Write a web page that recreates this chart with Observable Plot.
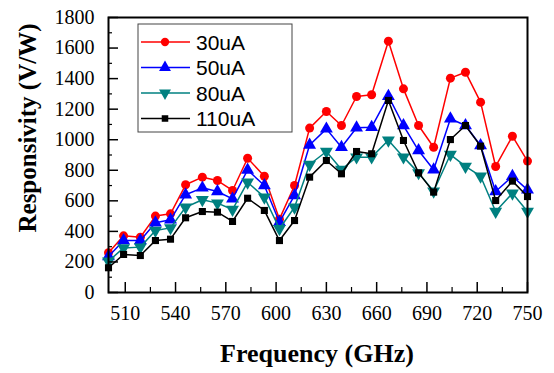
<!DOCTYPE html>
<html>
<head>
<meta charset="utf-8">
<script src="https://cdn.jsdelivr.net/npm/d3@7"></script>
<script src="https://cdn.jsdelivr.net/npm/@observablehq/plot@0.6"></script>
<style>
  html, body { margin: 0; padding: 0; background: #fff; }
  #chart svg { display: block; }
</style>
</head>
<body>
<div id="chart"></div>
<script>
const freq = [500,509,519,528,537,546,556,565,574,583,593,602,611,620,630,639,648,657,667,676,685,694,704,713,722,731,741,750];
const r30  = [260,371,362,500,515,705,755,733,668,879,761,480,700,1076,1185,1093,1283,1294,1645,1333,1093,951,1403,1442,1246,825,1023,860];
const r50  = [236,340,340,456,476,640,685,661,613,802,700,460,635,966,1071,951,1078,1082,1285,1093,929,803,1137,1093,962,661,761,672];
const r80  = [205,292,297,406,423,558,607,585,543,722,624,417,558,838,923,805,886,886,997,886,783,663,903,825,761,530,650,530];
const r110 = [162,249,242,340,349,489,530,526,465,617,537,340,471,755,864,777,923,908,1257,995,783,657,1001,1093,958,602,729,628];
const seriesNames = ["30uA", "50uA", "80uA", "110uA"];
const seriesValues = [r30, r50, r80, r110];
const seriesColors = ["#ff0000", "#0000ff", "#008080", "#000000"];
const xTicks = [510, 540, 570, 600, 630, 660, 690, 720, 750];
const xMinor = [525, 555, 585, 615, 645, 675, 705, 735];
const yTicks = [0, 200, 400, 600, 800, 1000, 1200, 1400, 1600, 1800];
const yMinor = [100, 300, 500, 700, 900, 1100, 1300, 1500, 1700];

const sqrt3 = Math.sqrt(3);
const triangleDown = {
  draw(context, size) {
    const y = -Math.sqrt(size / (sqrt3 * 3));
    context.moveTo(0, -y * 2);
    context.lineTo(-sqrt3 * y, y);
    context.lineTo(sqrt3 * y, y);
    context.closePath();
  }
};
const seriesSymbols = [d3.symbolCircle, d3.symbolTriangle, triangleDown, d3.symbolSquare];
const seriesR = [4.5, 4.8, 4.8, 4];

const rows = [];
seriesNames.forEach((name, i) => {
  freq.forEach((f, j) => rows.push({series: name, freq: f, value: seriesValues[i][j]}));
});

const marks = [];
seriesNames.forEach((name, i) => {
  const d = rows.filter(r => r.series === name);
  marks.push(Plot.line(d, {x: "freq", y: "value", stroke: seriesColors[i], strokeWidth: 1.5}));
  marks.push(Plot.dot(d, {x: "freq", y: "value", fill: seriesColors[i], stroke: "none", r: seriesR[i], symbol: () => seriesSymbols[i]}));
});

const plot = Plot.plot({
  width: 554,
  height: 373,
  marginLeft: 108,
  marginRight: 27,
  marginTop: 17,
  marginBottom: 81,
  style: {background: "#fff", overflow: "visible"},
  x: {domain: [500, 750]},
  y: {domain: [0, 1800]},
  symbol: {type: "identity"},
  marks: [
    ...marks,
    Plot.axisX({ticks: xTicks, tickSize: -10, text: null, label: null, strokeWidth: 1.5}),
    Plot.axisX({ticks: xMinor, tickSize: -5, text: null, label: null, strokeWidth: 1.2}),
    Plot.axisX({ticks: xTicks, tickSize: 0, tickPadding: 13, label: null, fontSize: 20, tickFormat: d => String(d), fill: "#000"}),
    Plot.axisY({ticks: yTicks, tickSize: -10, text: null, label: null, strokeWidth: 1.5}),
    Plot.axisY({ticks: yMinor, tickSize: -4, text: null, label: null, strokeWidth: 1.2}),
    Plot.axisY({ticks: yTicks, tickSize: 0, tickPadding: 14, label: null, fontSize: 20, tickFormat: d => String(d), fill: "#000"}),
    Plot.frame({stroke: "#000", strokeWidth: 2})
  ]
});

const svg = d3.select(plot);
svg.attr("font-family", "Liberation Serif");
svg.selectAll("g").attr("font-family", "Liberation Serif");
svg.selectAll("text").attr("font-family", "Liberation Serif");

// axis titles
svg.append("text")
  .attr("x", 317).attr("y", 362)
  .attr("text-anchor", "middle")
  .attr("font-family", "Liberation Serif")
  .attr("font-weight", "bold")
  .attr("font-size", 26)
  .attr("fill", "#000")
  .text("Frequency (GHz)");
svg.append("text")
  .attr("transform", "translate(36,128) rotate(-90)")
  .attr("text-anchor", "middle")
  .attr("font-family", "Liberation Serif")
  .attr("font-weight", "bold")
  .attr("font-size", 25)
  .attr("fill", "#000")
  .text("Responsivity (V/W)");

// legend
const lg = svg.append("g").attr("font-family", "Liberation Sans");
lg.append("rect").attr("x", 138).attr("y", 24).attr("width", 154).attr("height", 108)
  .attr("fill", "#fff").attr("stroke", "#444").attr("stroke-width", 1);
seriesNames.forEach((name, i) => {
  const y = 42 + i * 25.5;
  lg.append("line").attr("x1", 141).attr("x2", 190).attr("y1", y).attr("y2", y)
    .attr("stroke", seriesColors[i]).attr("stroke-width", 1.5);
  lg.append("path").attr("transform", `translate(165,${y})`)
    .attr("d", d3.symbol(seriesSymbols[i], Math.PI * seriesR[i] * seriesR[i] * 0.85)())
    .attr("fill", seriesColors[i]);
  lg.append("text").attr("x", 196).attr("y", y).attr("dy", "0.36em")
    .attr("text-anchor", "start")
    .attr("font-family", "Liberation Sans")
    .attr("font-size", 21).attr("fill", "#000")
    .text(name);
});

document.getElementById("chart").appendChild(plot);
</script>
</body>
</html>
